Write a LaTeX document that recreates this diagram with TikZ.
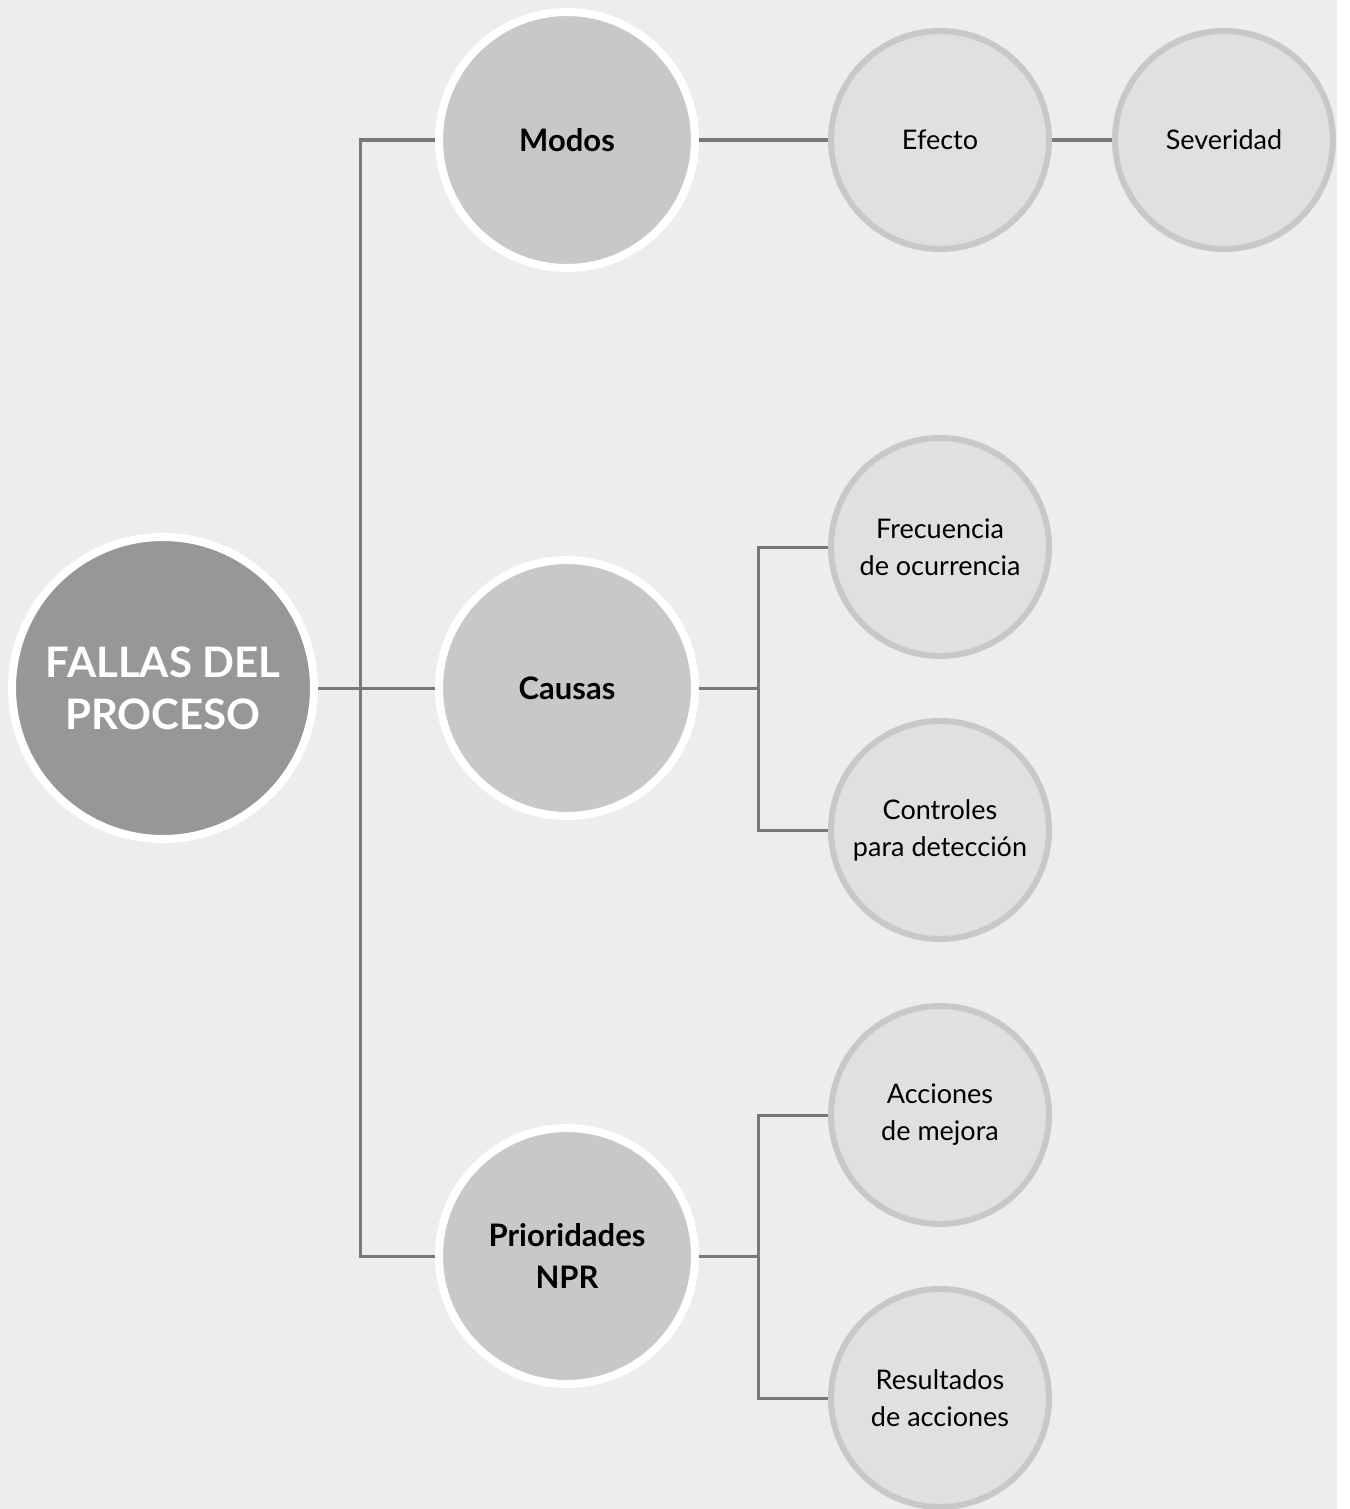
\documentclass[tikz,border=0pt]{standalone}
\usepackage{fontspec}
\setmainfont{Lato}
\definecolor{bgc}{HTML}{EDEDED}
\definecolor{bigc}{HTML}{979797}
\definecolor{midc}{HTML}{C8C8C8}
\definecolor{smallc}{HTML}{E0E0E0}
\definecolor{smallring}{HTML}{C8C8C8}
\definecolor{linec}{HTML}{787878}
\begin{document}
\begin{tikzpicture}[x=0.5pt,y=-0.5pt,
  bignode/.style={circle,draw=white,line width=4pt,fill=bigc,minimum size=151pt,inner sep=0pt,
    text=white,font=\fontsize{21}{26}\selectfont\bfseries,align=center},
  midnode/.style={circle,draw=white,line width=4pt,fill=midc,minimum size=128pt,inner sep=0pt,
    text=black,font=\fontsize{15.5}{21}\selectfont\bfseries,align=center},
  smallnode/.style={circle,draw=smallring,line width=3pt,fill=smallc,minimum size=109pt,inner sep=0pt,
    text=black,font=\fontsize{13.5}{18.5}\selectfont,align=center},
  conn/.style={draw=linec,line width=1.5pt}]
\useasboundingbox (0,0) rectangle (1349,1509);
\fill[white] (0,0) rectangle (1349,1509);
\fill[bgc] (0,0) rectangle (1337,1509);
\coordinate (j1) at (360,688);
\coordinate (j2) at (758,688);
\coordinate (j3) at (758,1256);
\node[bignode] (root) at (163,688) {FALLAS DEL\\PROCESO};
\node[midnode] (modos) at (567,140) {Modos};
\node[midnode] (causas) at (567,688) {Causas};
\node[midnode] (prio) at (567,1256) {Prioridades\\NPR};
\node[smallnode] (efecto) at (940,140) {Efecto};
\node[smallnode] (sev) at (1224,140) {Severidad};
\node[smallnode] (frec) at (940,547) {Frecuencia\\de ocurrencia};
\node[smallnode] (ctrl) at (940,830) {Controles\\para detección};
\node[smallnode] (acc) at (940,1115) {Acciones\\de mejora};
\node[smallnode] (res) at (940,1398) {Resultados\\de acciones};
\draw[conn] (root.east) -- (causas.west);
\draw[conn] (modos.west) -- (modos.west -| j1) -- (prio.west -| j1) -- (prio.west);
\draw[conn] (modos.east) -- (efecto.west);
\draw[conn] (efecto.east) -- (sev.west);
\draw[conn] (causas.east) -- (j2);
\draw[conn] (frec.west) -- (frec.west -| j2) -- (ctrl.west -| j2) -- (ctrl.west);
\draw[conn] (prio.east) -- (j3);
\draw[conn] (acc.west) -- (acc.west -| j3) -- (res.west -| j3) -- (res.west);
\end{tikzpicture}
\end{document}
